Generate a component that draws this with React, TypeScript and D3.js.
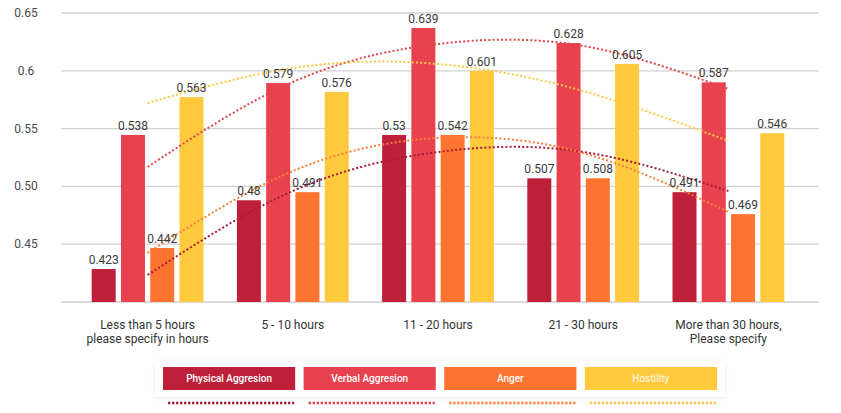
import React from 'react';
import * as d3 from 'd3';

const categories = [
  'Less than 5 hours|please specify in hours',
  '5 - 10 hours',
  '11 - 20 hours',
  '21 - 30 hours',
  'More than 30 hours,|Please specify',
];

const seriesNames = ['Physical Aggresion', 'Verbal Aggresion', 'Anger', 'Hostility'];

// bar heights as drawn
const physical = [0.4285, 0.488, 0.5445, 0.507, 0.495];
const verbal = [0.5445, 0.5894, 0.637, 0.624, 0.59];
const anger = [0.4467, 0.495, 0.5445, 0.507, 0.476];
const hostility = [0.5773, 0.5817, 0.6, 0.606, 0.546];

// value labels as printed
const physicalLabels = ['0.423', '0.48', '0.53', '0.507', '0.491'];
const verbalLabels = ['0.538', '0.579', '0.639', '0.628', '0.587'];
const angerLabels = ['0.442', '0.491', '0.542', '0.508', '0.469'];
const hostilityLabels = ['0.563', '0.576', '0.601', '0.605', '0.546'];

// dotted trend lines, read at each category
const physicalTrend = [0.4234, 0.496, 0.5298, 0.5298, 0.496];
const verbalTrend = [0.5168, 0.5903, 0.6232, 0.6215, 0.5843];
const angerTrend = [0.4424, 0.5133, 0.5419, 0.5289, 0.4779];
const hostilityTrend = [0.5721, 0.6024, 0.6059, 0.5825, 0.5393];

const yTicks = [0.45, 0.5, 0.55, 0.6, 0.65];
const yTickLabels = ['0.45', '0.50', '0.55', '0.6', '0.65'];

const colors = ['#be2039', '#e9424f', '#fd7430', '#ffc93e'];
const trendColors = ['#a51d36', '#e0454c', '#f8803a', '#fbc845'];

const values = [physical, verbal, anger, hostility];
const labels = [physicalLabels, verbalLabels, angerLabels, hostilityLabels];
const trends = [physicalTrend, verbalTrend, angerTrend, hostilityTrend];

const W = 841;
const H = 413;
const FONT = 'Roboto, "Noto Sans", sans-serif';

export default function App() {
  const gridLeft = 61;
  const gridRight = 819;

  const y = d3.scaleLinear().domain([0.4, 0.65]).range([302, 13]);

  const x0 = d3
    .scaleBand<string>()
    .domain(categories)
    .range([75, 801])
    .paddingInner(0.23)
    .paddingOuter(0.115);

  const x1 = d3
    .scaleBand<string>()
    .domain(seriesNames)
    .range([0, x0.bandwidth()])
    .paddingInner(0.18);

  const cx = (c: string) => (x0(c) as number) + x0.bandwidth() / 2;

  const trendLine = d3
    .line<number>()
    .x((_, i) => cx(categories[i]))
    .y(d => y(d))
    .curve(d3.curveNatural);

  // legend layout
  const legendX = d3.scaleBand<string>().domain(seriesNames).range([163, 717]).paddingInner(0.06);

  return (
    <svg
      width={W}
      height={H}
      style={{ position: 'absolute', left: 0, top: 0, background: '#fff', fontFamily: FONT }}
    >
      <defs>
        <filter id="legendShadow" x="-5%" y="-40%" width="110%" height="180%">
          <feDropShadow dx="0" dy="1" stdDeviation="2.5" floodColor="#000" floodOpacity="0.08" />
        </filter>
      </defs>

      {/* grid */}
      <line x1={gridLeft} x2={gridRight} y1={y(0.4)} y2={y(0.4)} stroke="#cfcfcf" strokeWidth={1.5} />
      {yTicks.map((t, i) => (
        <g key={t}>
          <line x1={gridLeft} x2={gridRight} y1={y(t)} y2={y(t)} stroke="#d2d2d2" strokeWidth={1.3} />
          <text x={26} y={y(t) + 4} textAnchor="middle" fontSize={12} fill="#4a4a4a">
            {yTickLabels[i]}
          </text>
        </g>
      ))}

      {/* bars */}
      {categories.map((c, ci) => (
        <g key={c} transform={`translate(${x0(c)},0)`}>
          {seriesNames.map((s, si) => (
            <rect
              key={s}
              x={x1(s)}
              y={y(values[si][ci])}
              width={x1.bandwidth()}
              height={y(0.4) - y(values[si][ci])}
              fill={colors[si]}
            />
          ))}
        </g>
      ))}

      {/* trend lines */}
      {trends.map((t, si) => (
        <path
          key={si}
          d={trendLine(t) || ''}
          fill="none"
          stroke={trendColors[si]}
          strokeWidth={2}
          strokeDasharray="2 2.2"
        />
      ))}

      {/* value labels */}
      {categories.map((c, ci) => (
        <g key={c} transform={`translate(${x0(c)},0)`}>
          {seriesNames.map((s, si) => (
            <text
              key={s}
              x={(x1(s) as number) + x1.bandwidth() / 2}
              y={y(values[si][ci]) - 5}
              textAnchor="middle"
              fontSize={12}
              fill="#3a3a3a"
            >
              {labels[si][ci]}
            </text>
          ))}
        </g>
      ))}

      {/* category labels */}
      {categories.map(c => (
        <text key={c} x={cx(c)} y={329} textAnchor="middle" fontSize={12} fill="#333">
          {c.split('|').map((line, li) => (
            <tspan key={li} x={cx(c)} dy={li === 0 ? 0 : 14}>
              {line}
            </tspan>
          ))}
        </text>
      ))}

      {/* legend */}
      <rect x={155} y={361} width={570} height={36} fill="#fff" filter="url(#legendShadow)" />
      {seriesNames.map((s, si) => (
        <g key={s}>
          <rect x={legendX(s)} y={367} width={legendX.bandwidth()} height={23} fill={colors[si]} />
          <text
            x={(legendX(s) as number) + legendX.bandwidth() / 2}
            y={382}
            textAnchor="middle"
            fontSize={10}
            fontWeight={500}
            fill="#fff"
            fillOpacity={si === 3 ? 0.8 : 1}
          >
            {s}
          </text>
          <line
            x1={(legendX(s) as number) + 5}
            x2={(legendX(s) as number) + legendX.bandwidth() - 1}
            y1={403}
            y2={403}
            stroke={trendColors[si]}
            strokeWidth={2.5}
            strokeDasharray="2.4 1.6"
          />
        </g>
      ))}
    </svg>
  );
}
